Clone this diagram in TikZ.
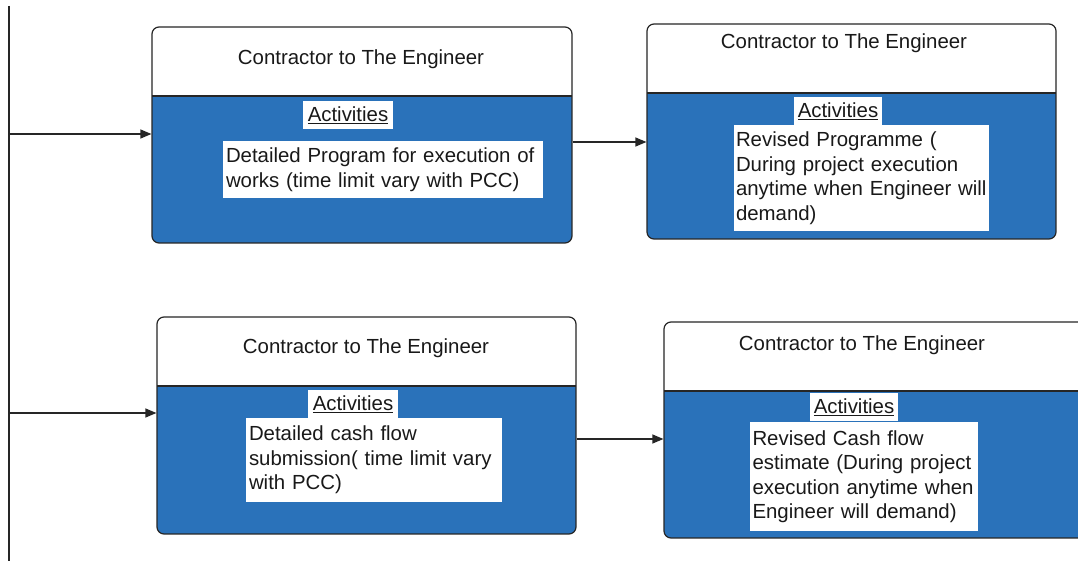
\documentclass[tikz,border=0pt]{standalone}
\usepackage{fontspec}
\setmainfont{Liberation Sans}
\usetikzlibrary{arrows.meta,calc}
\definecolor{panelblue}{RGB}{42,114,186}
\definecolor{edge}{RGB}{38,38,38}
\definecolor{ink}{RGB}{25,25,25}
\begin{document}
\begin{tikzpicture}[x=1pt,y=-1pt,
  font=\fontsize{20.4}{24.5}\selectfont, text=ink,
  card/.style={draw=edge, line width=1.2pt, rounded corners=7pt, inner sep=0pt,
    path picture={
      \fill[panelblue, sharp corners]
        ([yshift=-69pt]path picture bounding box.north west)
        rectangle (path picture bounding box.south east);
      \draw[edge, line width=1.2pt, sharp corners]
        ([yshift=-69pt]path picture bounding box.north west) --
        ([yshift=-69pt]path picture bounding box.north east);}},
  title/.style={inner sep=0pt},
  heading/.style={fill=white, inner xsep=3pt, inner ysep=0pt, minimum height=28pt},
  detail/.style={fill=white, inner xsep=3pt, inner ysep=0pt, align=left},
  arr/.style={draw=edge, line width=1.2pt, -{Triangle[length=11pt,width=9pt]}},
  trunk/.style={draw=edge, line width=1.2pt}]

\clip (0,0) rectangle (1078,561);
\fill[white] (0,0) rectangle (1078,561);

% four cards
\node[card, minimum width=420pt, minimum height=216pt] (b1) at (362,135) {};
\node[card, minimum width=409pt, minimum height=215pt] (b2) at (851.5,131.5) {};
\node[card, minimum width=419pt, minimum height=217pt] (b3) at (366.5,425.5) {};
\node[card, minimum width=422pt, minimum height=216pt] (b4) at (875,430) {};

% card titles
\node[title] (t1) at (361,59) {Contractor to The Engineer};
\node[title] (t2) at (844,43) {Contractor to The Engineer};
\node[title] (t3) at (366,348) {Contractor to The Engineer};
\node[title] (t4) at (862,345) {Contractor to The Engineer};

% activity headings
\node[heading, minimum width=90pt] (h1) at (348,115) {\underline{Activities}};
\node[heading, minimum width=88pt] (h2) at (838,111) {\underline{Activities}};
\node[heading, minimum width=90pt] (h3) at (353,404) {\underline{Activities}};
\node[heading, minimum width=88pt] (h4) at (854,407) {\underline{Activities}};

% activity descriptions
\node[detail, text width=314pt, minimum height=57pt] (d1) at (383,169.5)
  {Detailed Program for execution of\\works (time limit vary with PCC)};
\node[detail, text width=251pt, inner xsep=2pt, minimum height=106pt] (d2) at (861.5,178)
  {Revised Programme (\\During project execution\\\mbox{anytime when Engineer will}\\demand)};
\node[detail, text width=250pt, minimum height=84pt] (d3) at (374,460)
  {Detailed cash flow\\submission( time limit vary\\with PCC)};
\node[detail, text width=222pt, minimum height=109pt] (d4) at (863.5,476.5)
  {Revised Cash flow\\estimate (During project\\\mbox{execution anytime when}\\Engineer will demand)};

% left trunk line and connectors
\coordinate (top) at (9,6);
\coordinate (bot) at (9,561);
\draw[trunk] (top) -- (bot);

\coordinate (p1) at ([yshift=1pt]b1.west);
\draw[arr] (top |- p1) -- (p1);

\coordinate (p2) at ([yshift=-7pt]b1.east);
\draw[arr] (p2) -- (p2 -| b2.west);

\coordinate (p3) at ([yshift=12.5pt]b3.west);
\draw[arr] (top |- p3) -- (p3);

\coordinate (p4) at ([yshift=-13.5pt]b3.east);
\draw[arr] (p4) -- (p4 -| b4.west);
\end{tikzpicture}
\end{document}
